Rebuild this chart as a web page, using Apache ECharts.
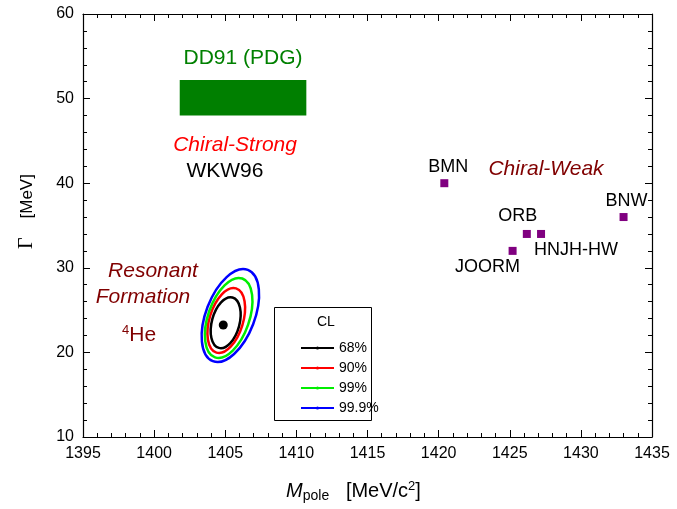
<!DOCTYPE html>
<html>
<head>
<meta charset="utf-8">
<script src="https://cdn.jsdelivr.net/npm/echarts@6/dist/echarts.min.js"></script>
<style>
  html, body { margin: 0; padding: 0; background: #fff; }
  #main { width: 677px; height: 509px; }
</style>
</head>
<body>
<div id="main"></div>
<script>
// model predictions (purple squares)
var modelNames = ['BMN', 'ORB', 'HNJH-HW', 'JOORM', 'BNW'];
var modelMass = [1420.4, 1426.2, 1427.2, 1425.2, 1433.0];
var modelWidth = [40.0, 34.0, 34.0, 32.0, 36.0];
// DD91 (PDG) box
var dd91Mass = [1401.8, 1410.7];
var dd91Width = [48.0, 52.2];
// best fit point
var bestMass = [1404.86];
var bestWidth = [23.24];
// confidence contours: centre, end of long axis, end of short axis
var clNames = ['68%', '90%', '99%', '99.9%'];
var clColors = ['#000000', '#ff0000', '#00ee00', '#0000ff'];
var contourCentre = [[1405.03, 23.51], [1405.07, 23.77], [1405.24, 24.07], [1405.36, 24.36]];
var contourMajorEnd = [[1405.51, 26.49], [1405.76, 27.57], [1406.20, 28.73], [1406.59, 29.76]];
var contourMinorEnd = [[1405.97, 23.09], [1406.20, 23.19], [1406.61, 23.28], [1406.96, 23.33]];
// tick labels
var xTicks = [1395, 1400, 1405, 1410, 1415, 1420, 1425, 1430, 1435];
var yTicks = [10, 20, 30, 40, 50, 60];

var FONT = 'Liberation Sans, Arial, sans-serif';
var chart = echarts.init(document.getElementById('main'));

var labelOffsets = [[4, -16], [-9, -18], [35, 16], [-25, 16], [3, -16]];

function axisCommon(pos, showLabel) {
  return {
    type: 'value',
    position: pos,
    axisLine: { show: true, onZero: false, lineStyle: { color: '#000', width: 1.2 } },
    axisTick: { show: true, inside: true, length: 7, lineStyle: { color: '#000' } },
    minorTick: { show: true, splitNumber: 5, length: 4, lineStyle: { color: '#000' } },
    splitLine: { show: false },
    axisLabel: { show: showLabel, color: '#000', fontSize: 16, fontFamily: FONT, margin: 9,
      formatter: function (v) { return String(v); } }
  };
}

var xBottom = axisCommon('bottom', true);
xBottom.min = xTicks[0]; xBottom.max = xTicks[xTicks.length - 1]; xBottom.interval = 5;
xBottom.name = '{m|M}{sub|pole}{t|   [MeV/c}{sup|2}{t|]}{pad|}';
xBottom.nameLocation = 'middle';
xBottom.nameGap = 42;
xBottom.nameTextStyle = {
  rich: {
    m: { fontFamily: FONT, fontStyle: 'italic', fontSize: 20, color: '#000' },
    sub: { fontFamily: FONT, fontSize: 14, color: '#000', padding: [10, 0, 0, 0] },
    t: { fontFamily: FONT, fontSize: 20, color: '#000' },
    sup: { fontFamily: FONT, fontSize: 13, color: '#000', padding: [0, 0, 10, 0] },
    pad: { width: 28 }
  }
};
var xTop = axisCommon('top', false);
xTop.min = xTicks[0]; xTop.max = xTicks[xTicks.length - 1]; xTop.interval = 5;

var yLeft = axisCommon('left', true);
yLeft.min = yTicks[0]; yLeft.max = yTicks[yTicks.length - 1]; yLeft.interval = 10;
yLeft.name = '{g|\u0393}{t|    [MeV]}';
yLeft.nameLocation = 'middle';
yLeft.nameGap = 46;
yLeft.nameTextStyle = {
  rich: {
    g: { fontFamily: 'Liberation Serif, Times New Roman, serif', fontSize: 20, color: '#000', padding: [0, 0, 0, 28] },
    t: { fontFamily: FONT, fontSize: 17, color: '#000' }
  }
};
var yRight = axisCommon('right', false);
yRight.min = yTicks[0]; yRight.max = yTicks[yTicks.length - 1]; yRight.interval = 10;

// text notes placed in data coordinates
var notes = [
  { value: [1406.25, 54.8], label: { formatter: 'DD91 (PDG)', color: '#008000', fontSize: 21 } },
  { value: [1405.69, 44.5], label: { formatter: 'Chiral-Strong', color: '#ff0000', fontSize: 21, fontStyle: 'italic' } },
  { value: [1404.98, 41.36], label: { formatter: 'WKW96', color: '#000', fontSize: 21 } },
  { value: [1427.55, 41.68], label: { formatter: 'Chiral-Weak', color: '#800000', fontSize: 21, fontStyle: 'italic' } },
  { value: [1399.92, 29.62], label: { formatter: 'Resonant', color: '#800000', fontSize: 21, fontStyle: 'italic' } },
  { value: [1399.22, 26.58], label: { formatter: 'Formation', color: '#800000', fontSize: 21, fontStyle: 'italic' } },
  { value: [1398.94, 22.06], label: { formatter: '{s|4}{h|He}', rich: {
      s: { fontFamily: FONT, fontSize: 13, color: '#800000', padding: [0, 0, 10, 0] },
      h: { fontFamily: FONT, fontSize: 21, color: '#800000' } } } }
];

var series = [];

// DD91 box
series.push({
  type: 'custom',
  name: 'DD91',
  data: [[dd91Mass[0], dd91Width[0], dd91Mass[1], dd91Width[1]]],
  encode: { x: [0, 2], y: [1, 3] },
  renderItem: function (params, api) {
    var p0 = api.coord([api.value(0), api.value(3)]);
    var p1 = api.coord([api.value(2), api.value(1)]);
    return {
      type: 'rect',
      shape: { x: p0[0], y: p0[1], width: p1[0] - p0[0], height: p1[1] - p0[1] },
      style: { fill: '#007f00', stroke: null }
    };
  },
  silent: true
});

// contours
clNames.forEach(function (nm, k) {
  series.push({
    type: 'custom',
    name: 'contour' + k,
    data: [contourCentre[k].concat(contourMajorEnd[k], contourMinorEnd[k])],
    encode: { x: [0, 2, 4], y: [1, 3, 5] },
    renderItem: function (params, api) {
      var c = api.coord([api.value(0), api.value(1)]);
      var m = api.coord([api.value(2), api.value(3)]);
      var n = api.coord([api.value(4), api.value(5)]);
      var rx = Math.hypot(m[0] - c[0], m[1] - c[1]);
      var ry = Math.hypot(n[0] - c[0], n[1] - c[1]);
      var ang = Math.atan2(m[1] - c[1], m[0] - c[0]);
      return {
        type: 'ellipse',
        x: c[0], y: c[1],
        rotation: -ang,
        shape: { cx: 0, cy: 0, rx: rx, ry: ry },
        style: { fill: 'none', stroke: clColors[k], lineWidth: 2.5 }
      };
    },
    silent: true,
    z: 3
  });
  // legend entry
  series.push({
    type: 'line',
    name: nm,
    data: [],
    symbol: 'circle',
    symbolSize: 3,
    itemStyle: { color: clColors[k] },
    lineStyle: { color: clColors[k], width: 2 }
  });
});

// best fit
series.push({
  type: 'scatter',
  name: 'best',
  data: bestMass.map(function (m, i) { return [m, bestWidth[i]]; }),
  symbol: 'circle',
  symbolSize: 9,
  itemStyle: { color: '#000', opacity: 1 },
  z: 4
});

// model points
series.push({
  type: 'scatter',
  name: 'models',
  data: modelMass.map(function (m, i) {
    return {
      value: [m, modelWidth[i]],
      label: { formatter: modelNames[i], offset: labelOffsets[i] }
    };
  }),
  symbol: 'rect',
  symbolSize: 8,
  itemStyle: { color: '#800080', opacity: 1 },
  label: { show: true, position: 'inside', color: '#000', fontSize: 18, fontFamily: FONT }
});

// notes
series.push({
  type: 'scatter',
  name: 'notes',
  data: notes,
  symbolSize: 0,
  itemStyle: { opacity: 1 },
  label: { show: true, position: 'inside', fontFamily: FONT },
  silent: true
});

chart.setOption({
  animation: false,
  backgroundColor: '#fff',
  grid: { left: 83, right: 25, top: 14, bottom: 72 },
  xAxis: [xBottom, xTop],
  yAxis: [yLeft, yRight],
  legend: {
    data: clNames,
    orient: 'vertical',
    left: 295,
    top: 336,
    itemWidth: 33,
    itemHeight: 4,
    itemGap: 6,
    textStyle: { color: '#000', fontSize: 14, fontFamily: FONT, lineHeight: 14 },
    selectedMode: false
  },
  graphic: [
    { type: 'rect', left: 274, top: 307, shape: { width: 97, height: 113 },
      style: { fill: '#fff', stroke: '#000', lineWidth: 1 }, z: 0 },
    { type: 'text', left: 317, top: 315, style: { text: 'CL', fill: '#000', fontSize: 14, fontFamily: FONT }, z: 10 }
  ],
  series: series
});
</script>
</body>
</html>
